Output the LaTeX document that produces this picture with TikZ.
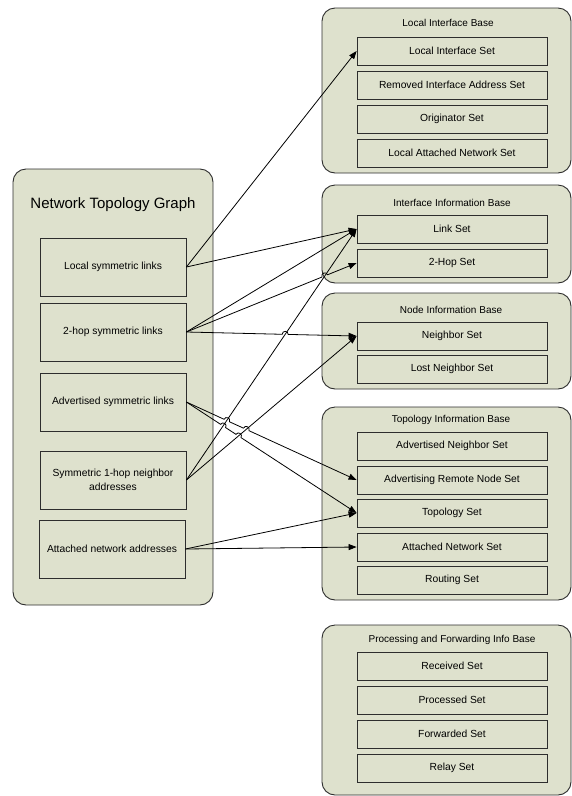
\documentclass[tikz,border=0pt]{standalone}
\usepackage{fontspec}
\setmainfont{Liberation Sans}
\usetikzlibrary{arrows.meta,calc}
\definecolor{bg}{RGB}{222,225,205}
\definecolor{ln}{RGB}{45,45,45}
\begin{document}
\begin{tikzpicture}[x=1pt,y=1pt,
  container/.style={draw=ln, fill=bg, rounded corners=13pt, line width=0.9pt, inner sep=0pt},
  setbox/.style={draw=ln, fill=bg, line width=0.8pt, minimum width=190pt, minimum height=28pt, inner sep=0pt, font=\fontsize{10.3}{12}\selectfont},
  leftbox/.style={draw=ln, fill=bg, line width=0.8pt, minimum width=146pt, minimum height=58pt, inner sep=0pt, align=center, font=\fontsize{10.3}{14}\selectfont},
  ctitle/.style={font=\fontsize{10}{12}\selectfont, inner sep=0pt},
  bigtitle/.style={font=\fontsize{15}{18}\selectfont, inner sep=0pt},
  conn/.style={draw=black, line width=0.8pt, -{Triangle[length=8pt,width=6pt]}},
  hop/.style={bend left=90, looseness=1.7},
]
\useasboundingbox (0,0) rectangle (572,-796);

% containers
\node[container, minimum width=200pt, minimum height=436pt] (ntg) at (113,-387) {};
\node[container, minimum width=249pt, minimum height=165pt] (c1) at (446.5,-90.5) {};
\node[container, minimum width=249pt, minimum height=98pt] (c2) at (446.5,-234) {};
\node[container, minimum width=249pt, minimum height=96pt] (c3) at (446.5,-341) {};
\node[container, minimum width=249pt, minimum height=193pt] (c4) at (446.5,-503.5) {};
\node[container, minimum width=249pt, minimum height=170pt] (c5) at (446.5,-710) {};

% titles
\node[bigtitle] (tntg) at (113,-205) {Network Topology Graph};
\node[ctitle] (t1) at (448,-23) {Local Interface Base};
\node[ctitle] (t2) at (452,-203) {Interface Information Base};
\node[ctitle] (t3) at (451,-310) {Node Information Base};
\node[ctitle] (t4) at (451,-420) {Topology Information Base};
\node[ctitle] (t5) at (452,-640) {Processing and Forwarding Info Base};

% left boxes
\node[leftbox] (lsl) at (113,-267) {Local symmetric links};
\node[leftbox] (thl) at (113,-332) {2-hop symmetric links};
\node[leftbox] (adv) at (113,-402) {Advertised symmetric links};
\node[leftbox] (sym) at (113,-480) {Symmetric 1-hop neighbor\\addresses};
\node[leftbox] (att) at (112,-549) {Attached network addresses};

% sets
\node[setbox] (lis) at (452,-51) {Local Interface Set};
\node[setbox] (ria) at (452,-85) {Removed Interface Address Set};
\node[setbox] (ori) at (452,-119) {Originator Set};
\node[setbox] (lan) at (452,-153) {Local Attached Network Set};

\node[setbox] (link) at (452,-229) {Link Set};
\node[setbox] (twohop) at (452,-263) {2-Hop Set};

\node[setbox] (nbr) at (452,-336) {Neighbor Set};
\node[setbox] (lost) at (452,-369) {Lost Neighbor Set};

\node[setbox] (ans) at (452,-446) {Advertised Neighbor Set};
\node[setbox] (arn) at (452,-480) {Advertising Remote Node Set};
\node[setbox] (topo) at (452,-513) {Topology Set};
\node[setbox] (attn) at (452,-547) {Attached Network Set};
\node[setbox] (rout) at (452,-580) {Routing Set};

\node[setbox] (recv) at (452,-666) {Received Set};
\node[setbox] (proc) at (452,-700) {Processed Set};
\node[setbox] (fwd) at (452,-734) {Forwarded Set};
\node[setbox] (relay) at (452,-768) {Relay Set};

% crossing points
\coordinate (x1) at (intersection of thl.east--twohop.west and sym.east--link.west);
\coordinate (x2) at (intersection of thl.east--nbr.west and sym.east--link.west);
\coordinate (x3) at (intersection of adv.east--arn.west and sym.east--link.west);
\coordinate (x4) at (intersection of adv.east--arn.west and sym.east--nbr.west);
\coordinate (x5) at (intersection of adv.east--topo.west and sym.east--link.west);
\coordinate (x6) at (intersection of adv.east--topo.west and sym.east--nbr.west);

% connectors
\draw[conn] (lsl.east) -- (lis.west);
\draw[conn] (lsl.east) -- (link.west);
\draw[conn] (thl.east) -- (link.west);
\draw[conn] (thl.east) -- ($(x1)!3pt!(thl.east)$) to[hop] ($(x1)!3pt!(twohop.west)$) -- (twohop.west);
\draw[conn] (thl.east) -- ($(x2)!3pt!(thl.east)$) to[hop] ($(x2)!3pt!(nbr.west)$) -- (nbr.west);
\draw[conn] (sym.east) -- (link.west);
\draw[conn] (sym.east) -- (nbr.west);
\draw[conn] (adv.east) -- ($(x3)!3pt!(adv.east)$) to[hop] ($(x3)!3pt!(arn.west)$)
   -- ($(x4)!3pt!(adv.east)$) to[hop] ($(x4)!3pt!(arn.west)$) -- (arn.west);
\draw[conn] (adv.east) -- ($(x5)!3pt!(adv.east)$) to[hop] ($(x5)!3pt!(topo.west)$)
   -- ($(x6)!3pt!(adv.east)$) to[hop] ($(x6)!3pt!(topo.west)$) -- (topo.west);
\draw[conn] (att.east) -- (topo.west);
\draw[conn] (att.east) -- (attn.west);
\end{tikzpicture}
\end{document}
